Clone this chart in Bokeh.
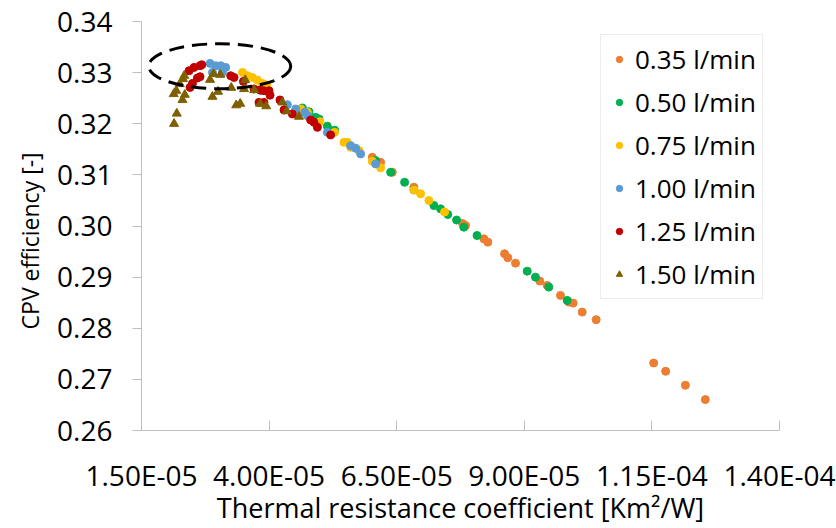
from bokeh.plotting import figure
from bokeh.models import (Range1d, FixedTicker, CustomJSTickFormatter, PrintfTickFormatter,
                          Legend, LegendItem)
from bokeh.embed import file_html
from bokeh.resources import INLINE

# ---- data ----
x_035 = [6.022e-5, 6.185e-5, 6.414e-5, 6.837e-5, 7.790e-5, 7.849e-5, 8.207e-5, 8.286e-5,
         8.613e-5, 8.677e-5, 8.828e-5, 9.304e-5, 9.448e-5, 9.709e-5, 9.871e-5, 9.957e-5,
         1.0134e-4, 1.0408e-4, 1.1535e-4, 1.1770e-4, 1.2156e-4, 1.2547e-4]
y_035 = [0.31344, 0.31246, 0.31051, 0.30758, 0.30049, 0.30010, 0.29750, 0.29684,
         0.29457, 0.29379, 0.29273, 0.28922, 0.28838, 0.28643, 0.28512, 0.28492,
         0.28316, 0.28168, 0.27320, 0.27158, 0.26885, 0.26605]

x_050 = [4.652e-5, 4.781e-5, 4.912e-5, 4.977e-5, 5.141e-5, 5.284e-5, 6.087e-5, 6.381e-5,
         6.655e-5, 6.837e-5, 7.228e-5, 7.359e-5, 7.502e-5, 7.673e-5, 7.816e-5, 8.074e-5,
         9.057e-5, 9.219e-5, 9.480e-5, 9.840e-5]
y_050 = [0.32309, 0.32236, 0.32125, 0.32094, 0.31953, 0.31875, 0.31279, 0.31051,
         0.30855, 0.30707, 0.30400, 0.30336, 0.30225, 0.30117, 0.29977, 0.29814,
         0.29117, 0.29000, 0.28805, 0.28545]

x_075 = [3.478e-5, 3.575e-5, 3.673e-5, 3.771e-5, 3.869e-5, 3.953e-5, 4.619e-5, 4.750e-5,
         4.997e-5, 5.284e-5, 5.466e-5, 5.533e-5, 5.598e-5, 5.760e-5, 6.022e-5, 6.185e-5,
         6.841e-5, 6.968e-5, 7.131e-5, 7.438e-5]
y_075 = [0.33004, 0.32939, 0.32906, 0.32855, 0.32789, 0.32758, 0.32289, 0.32223,
         0.32041, 0.31832, 0.31637, 0.31637, 0.31539, 0.31475, 0.31266, 0.31137,
         0.30703, 0.30629, 0.30498, 0.30273]

x_100 = [2.843e-5, 2.955e-5, 3.052e-5, 3.150e-5, 2.890e-5, 3.086e-5, 3.855e-5, 4.358e-5,
         4.521e-5, 4.697e-5, 4.750e-5, 5.141e-5, 5.598e-5, 5.696e-5, 5.794e-5, 6.087e-5]
y_100 = [0.33180, 0.33135, 0.33135, 0.33102, 0.33004, 0.33004, 0.32646, 0.32373,
         0.32289, 0.32223, 0.32158, 0.31832, 0.31572, 0.31520, 0.31410, 0.31215]

x_125 = [2.432e-5, 2.530e-5, 2.647e-5, 2.681e-5, 2.647e-5, 2.596e-5, 2.498e-5, 2.451e-5,
         3.248e-5, 3.313e-5, 3.497e-5, 3.704e-5, 3.822e-5, 3.900e-5, 3.998e-5, 4.018e-5,
         3.802e-5, 3.900e-5, 4.213e-5, 4.292e-5, 4.456e-5, 4.814e-5, 4.879e-5, 4.946e-5,
         5.206e-5]
y_125 = [0.33037, 0.33102, 0.33135, 0.33154, 0.32920, 0.32895, 0.32789, 0.32711,
         0.32939, 0.32906, 0.32828, 0.32680, 0.32660, 0.32646, 0.32646, 0.32559,
         0.32418, 0.32418, 0.32465, 0.32270, 0.32191, 0.32074, 0.32027, 0.31930,
         0.31781]

x_150 = [2.138e-5, 2.191e-5, 2.303e-5, 2.348e-5, 2.132e-5, 2.181e-5, 2.250e-5, 2.314e-5,
         2.338e-5, 2.890e-5, 3.000e-5, 2.843e-5, 2.910e-5, 3.043e-5, 3.258e-5, 3.356e-5,
         3.434e-5, 3.532e-5, 3.509e-5, 3.708e-5, 3.822e-5, 3.943e-5, 4.260e-5, 4.345e-5,
         4.585e-5]
y_150 = [0.32000, 0.32200, 0.32465, 0.32568, 0.32582, 0.32647, 0.32777, 0.32875,
         0.32940, 0.32529, 0.32627, 0.32861, 0.32973, 0.32959, 0.32705, 0.32363,
         0.32393, 0.32855, 0.32680, 0.32660, 0.32393, 0.32344, 0.32418, 0.32246,
         0.32139]

series_labels = ["0.35 l/min", "0.50 l/min", "0.75 l/min", "1.00 l/min", "1.25 l/min", "1.50 l/min"]
series_colors = ["#ED7D31", "#00B050", "#FFC000", "#5B9BD5", "#C00000", "#7F6000"]
series_markers = ["circle", "circle", "circle", "circle", "circle", "triangle"]
series_x = [x_035, x_050, x_075, x_100, x_125, x_150]
series_y = [y_035, y_050, y_075, y_100, y_125, y_150]

x_ticks = [1.5e-5, 4.0e-5, 6.5e-5, 9.0e-5, 1.15e-4, 1.4e-4]
y_ticks = [0.26, 0.27, 0.28, 0.29, 0.30, 0.31, 0.32, 0.33, 0.34]

# highlight ellipse (annotation)
ell_cx, ell_cy, ell_w, ell_h = 3.033e-5, 0.33125, 2.78e-5, 0.00879

FONT = "Open Sans"
AXIS_GRAY = "#BFBFBF"

p = figure(width=836, height=528, output_backend="svg", toolbar_location=None,
           x_range=Range1d(1.5e-5, 1.4e-4), y_range=Range1d(0.26, 0.34),
           min_border_left=141, min_border_right=57, min_border_top=21, min_border_bottom=97)
p.outline_line_color = None
p.grid.grid_line_color = None
p.background_fill_color = "white"
p.border_fill_color = "white"

items = []
for lab, col, mk, xs, ys in zip(series_labels, series_colors, series_markers, series_x, series_y):
    size = 9 if mk == "triangle" else 8
    r = p.scatter(xs, ys, marker=mk, size=size, fill_color=col, line_color=col)
    items.append(LegendItem(label=lab, renderers=[r]))

p.ellipse(x=[ell_cx], y=[ell_cy], width=[ell_w], height=[ell_h], fill_color=None,
          line_color="black", line_width=3, line_dash="15 8")

# axes
xa = p.xaxis[0]
xa.ticker = FixedTicker(ticks=x_ticks)
xa.formatter = CustomJSTickFormatter(code="""
const s = tick.toExponential(2).toUpperCase();
const parts = s.split("E");
const e = parseInt(parts[1]);
const sign = e < 0 ? "-" : "+";
return parts[0] + "E" + sign + String(Math.abs(e)).padStart(2, "0");
""")
xa.major_tick_in = 10
xa.major_tick_out = 0
xa.minor_tick_line_color = None
xa.major_label_standoff = 25
xa.axis_label = "Thermal resistance coefficient [Km²/W]"
xa.axis_label_standoff = -8
xa.axis_label_text_font_size = "27px"

ya = p.yaxis[0]
ya.ticker = FixedTicker(ticks=y_ticks)
ya.formatter = PrintfTickFormatter(format="%.2f")
ya.major_tick_in = 0
ya.major_tick_out = 9
ya.minor_tick_line_color = None
ya.major_label_standoff = 20
ya.axis_label = "CPV efficiency [-]" + "\u00a0" * 5
ya.axis_label_standoff = 8
ya.axis_label_text_font_size = "23px"

for ax in (xa, ya):
    ax.axis_line_color = AXIS_GRAY
    ax.major_tick_line_color = AXIS_GRAY
    ax.major_label_text_font = FONT
    ax.major_label_text_font_size = "28px"
    ax.major_label_text_color = "black"
    ax.axis_label_text_font = FONT
    ax.axis_label_text_font_style = "normal"
    ax.axis_label_text_color = "black"

legend = Legend(items=items, location=(459, 131), orientation="vertical",
                label_text_font=FONT, label_text_font_size="26px", label_text_color="black",
                glyph_width=24, glyph_height=16, label_standoff=4, spacing=7,
                padding=6, margin=0, border_line_color="#D9D9D9", border_line_width=1,
                background_fill_color="white", background_fill_alpha=1.0)
p.add_layout(legend)

open("out.html", "w").write(file_html(p, INLINE))
